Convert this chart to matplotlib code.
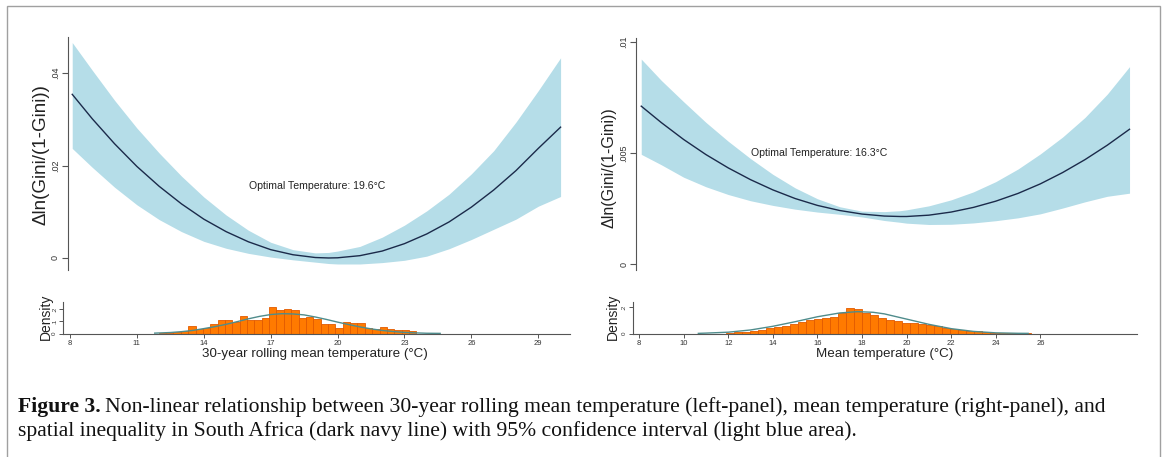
import numpy as np
import matplotlib
matplotlib.use("Agg")
import matplotlib.pyplot as plt
from matplotlib.patches import Rectangle

plt.rcParams["font.family"] = ["Liberation Sans", "DejaVu Sans"]

# ----------------- data ------------------------------------------------------
# left panel: 30-year rolling mean temperature
left_temp = [8.1, 9, 10, 11, 12, 13, 14, 15, 16, 17, 18, 19, 19.6, 20,
             21, 22, 23, 24, 25, 26, 27, 28, 29, 30]
left_fit = [0.0354, 0.0301, 0.0247, 0.0198, 0.0155, 0.0117, 0.0084, 0.0057,
            0.0035, 0.0018, 0.0007, 0.0001, 0.0, 0.00004, 0.0005, 0.0015,
            0.0031, 0.0052, 0.0078, 0.0110, 0.0147, 0.0189, 0.0237, 0.0283]
left_hi = [0.0466, 0.0406, 0.0341, 0.0281, 0.0227, 0.0177, 0.0132, 0.0093,
           0.0060, 0.0034, 0.0018, 0.0011, 0.0012, 0.0015, 0.0025, 0.0045,
           0.0071, 0.0102, 0.0138, 0.0182, 0.0232, 0.0294, 0.0362, 0.0433]
left_lo = [0.0237, 0.0196, 0.0153, 0.0115, 0.0083, 0.0057, 0.0036, 0.0021,
           0.0010, 0.0002, -0.0004, -0.0009, -0.0012, -0.0013, -0.0013,
           -0.0010, -0.0005, 0.0004, 0.0020, 0.0040, 0.0062, 0.0084, 0.0112,
           0.0133]

left_bin_edges = [11.98, 12.31, 12.64, 12.97, 13.30, 13.63, 13.96, 14.29,
                  14.62, 14.95, 15.28, 15.61, 15.94, 16.27, 16.60, 16.93,
                  17.26, 17.59, 17.92, 18.25, 18.58, 18.91, 19.24, 19.57,
                  19.90, 20.23, 20.56, 20.89, 21.22, 21.55, 21.88, 22.21,
                  22.54, 22.87, 23.20, 23.53]
left_density = [0.003, 0.006, 0.012, 0.02, 0.058, 0.04, 0.047, 0.077, 0.11,
                0.11, 0.096, 0.142, 0.11, 0.11, 0.123, 0.214, 0.19, 0.197,
                0.195, 0.13, 0.134, 0.115, 0.077, 0.074, 0.047, 0.09, 0.085,
                0.085, 0.049, 0.038, 0.055, 0.033, 0.03, 0.03, 0.022]
left_norm_x = [11.8, 12.5, 13, 13.5, 14, 14.5, 15, 15.5, 16, 16.5, 17, 17.5,
               18, 18.5, 19, 19.5, 20, 20.5, 21, 21.5, 22, 22.5, 23, 23.5,
               24, 24.6]
left_norm_y = [0.003, 0.008, 0.015, 0.025, 0.04, 0.056, 0.075, 0.097, 0.12,
               0.14, 0.155, 0.162, 0.16, 0.152, 0.135, 0.115, 0.093, 0.073,
               0.054, 0.038, 0.025, 0.016, 0.009, 0.005, 0.002, 0.001]

# right panel: mean temperature
right_temp = [8.1, 9, 10, 11, 12, 13, 14, 15, 16, 17, 18, 19, 19.7, 20,
              21, 22, 23, 24, 25, 26, 27, 28, 29, 30]
right_fit = [0.00711, 0.00637, 0.00561, 0.00493, 0.00433, 0.00380, 0.00334,
             0.00295, 0.00264, 0.00241, 0.00225, 0.00216, 0.00214, 0.00214,
             0.00220, 0.00234, 0.00255, 0.00283, 0.00318, 0.00361, 0.00412,
             0.00470, 0.00535, 0.00607]
right_hi = [0.00923, 0.00827, 0.00731, 0.00638, 0.00553, 0.00475, 0.00404,
            0.00343, 0.00294, 0.00258, 0.00238, 0.00236, 0.00240, 0.00244,
            0.00262, 0.00289, 0.00325, 0.00371, 0.00428, 0.00496, 0.00572,
            0.00660, 0.00765, 0.00889]
right_lo = [0.00494, 0.00447, 0.00391, 0.00348, 0.00313, 0.00285, 0.00264,
            0.00247, 0.00234, 0.00224, 0.00212, 0.00196, 0.00188, 0.00184,
            0.00178, 0.00179, 0.00185, 0.00195, 0.00208, 0.00226, 0.00252,
            0.00280, 0.00305, 0.00319]

right_bin_edges = [11.88, 12.24, 12.60, 12.96, 13.32, 13.68, 14.04, 14.40,
                   14.76, 15.12, 15.48, 15.84, 16.20, 16.56, 16.92, 17.28,
                   17.64, 18.00, 18.36, 18.72, 19.08, 19.44, 19.80, 20.16,
                   20.52, 20.88, 21.24, 21.60, 21.96, 22.32, 22.68, 23.04,
                   23.40, 23.76, 24.12, 24.48, 24.84, 25.20, 25.56]
right_density = [0.004, 0.008, 0.013, 0.022, 0.03, 0.04, 0.05, 0.06, 0.074,
                 0.09, 0.1, 0.112, 0.12, 0.128, 0.16, 0.198, 0.185, 0.16,
                 0.14, 0.122, 0.1, 0.092, 0.08, 0.082, 0.075, 0.066, 0.06,
                 0.045, 0.036, 0.03, 0.022, 0.016, 0.01, 0.005, 0.003, 0.002,
                 0.001, 0.001]
right_norm_x = [10.66, 11, 12, 13, 14, 15, 16, 17, 17.8, 18.5, 19, 20, 21,
                22, 23, 24, 25, 25.45]
right_norm_y = [0.001, 0.003, 0.01, 0.027, 0.055, 0.09, 0.128, 0.157, 0.167,
                0.162, 0.15, 0.11, 0.07, 0.037, 0.016, 0.005, 0.0015, 0.001]

left_xticks = [8, 11, 14, 17, 20, 23, 26, 29]
right_xticks = [8, 10, 12, 14, 16, 18, 20, 22, 24, 26]

# ----------------- styling ---------------------------------------------------
W, H = 1168, 457
BAND = "#b5dde8"
NAVY = "#1b2a4a"
BAR = "#ff7a00"
BAR_EDGE = "#e25a00"
NORM = "#4f8c8c"
AXC = "#555555"

fig = plt.figure(figsize=(W / 100, H / 100), dpi=100)


def px_axes(x0, y0, x1, y1):
    """Axes placed by pixel box (top-left origin)."""
    return fig.add_axes([x0 / W, 1 - y1 / H, (x1 - x0) / W, (y1 - y0) / H])


def style_upper(ax, ticks, labels):
    for s in ("top", "right", "bottom"):
        ax.spines[s].set_visible(False)
    ax.spines["left"].set_color(AXC)
    ax.spines["left"].set_linewidth(0.8)
    ax.set_xticks([])
    ax.set_yticks(ticks, labels)
    ax.tick_params(axis="y", length=4.5, width=0.8, color=AXC, labelsize=6.5,
                   labelcolor="#333333", pad=1)
    for t in ax.get_yticklabels():
        t.set_rotation(90)
        t.set_va("center")


def style_hist(ax, xticks, yticks, ylabels):
    for s in ("top", "right"):
        ax.spines[s].set_visible(False)
    for s in ("left", "bottom"):
        ax.spines[s].set_color(AXC)
        ax.spines[s].set_linewidth(0.8)
    ax.set_xticks(xticks)
    ax.set_yticks(yticks, ylabels)
    ax.tick_params(axis="x", length=3, width=0.7, color=AXC, labelsize=5.5,
                   labelcolor="#333333", pad=2)
    ax.tick_params(axis="y", length=3, width=0.7, color=AXC, labelsize=4.5,
                   labelcolor="#333333", pad=1.5)
    for t in ax.get_yticklabels():
        t.set_rotation(90)
        t.set_va("center")


def draw_hist(ax, edges, dens, nx, ny):
    edges = np.asarray(edges)
    ax.bar(edges[:-1], dens, width=np.diff(edges), align="edge", color=BAR,
           edgecolor=BAR_EDGE, linewidth=0.6, zorder=2)
    ax.plot(nx, ny, color=NORM, lw=1.0, zorder=3)


# ----------------- left panel ------------------------------------------------
ax1 = px_axes(67.7, 37, 569.5, 270)
ax1.fill_between(left_temp, left_lo, left_hi, color=BAND, lw=0)
ax1.plot(left_temp, left_fit, color=NAVY, lw=1.0)
ax1.set_xlim(7.897, 30.4)
ax1.set_ylim(-0.0026, 0.0478)
style_upper(ax1, [0, 0.02, 0.04], ["0", ".02", ".04"])
ax1.text(19.1, 0.0156, "Optimal Temperature: 19.6°C", fontsize=7.6,
         ha="center", va="center", color="#222222")
fig.text(41 / W, 1 - 155 / H, "Δln(Gini/(1-Gini))", rotation=90,
         fontsize=13.5, ha="center", va="center", color="#222222")

ax2 = px_axes(63.3, 301.7, 569.5, 333.5)
draw_hist(ax2, left_bin_edges, left_density, left_norm_x, left_norm_y)
ax2.set_xlim(7.70, 30.4)
ax2.set_ylim(0, 0.26)
style_hist(ax2, left_xticks, [0, 0.1, 0.2], ["0", ".1", ".2"])
fig.text(46 / W, 1 - 316.5 / H, "Density", rotation=90, fontsize=10,
         ha="center", va="center", color="#222222")
fig.text(315 / W, 1 - 354 / H, "30-year rolling mean temperature (°C)",
         fontsize=9.6, ha="center", va="center", color="#222222")

# ----------------- right panel -----------------------------------------------
ax3 = px_axes(636, 38, 1136, 270)
ax3.fill_between(right_temp, right_lo, right_hi, color=BAND, lw=0)
ax3.plot(right_temp, right_fit, color=NAVY, lw=1.0)
ax3.set_xlim(7.865, 30.29)
ax3.set_ylim(-0.00027, 0.01018)
style_upper(ax3, [0, 0.005, 0.01], ["0", ".005", ".01"])
ax3.text(16.1, 0.0050, "Optimal Temperature: 16.3°C", fontsize=7.6,
         ha="center", va="center", color="#222222")
fig.text(609 / W, 1 - 168 / H, "Δln(Gini/(1-Gini))", rotation=90,
         fontsize=11.5, ha="center", va="center", color="#222222")

ax4 = px_axes(633, 301.7, 1137, 333.5)
draw_hist(ax4, right_bin_edges, right_density, right_norm_x, right_norm_y)
ax4.set_xlim(7.73, 30.33)
ax4.set_ylim(0, 0.243)
style_hist(ax4, right_xticks, [0, 0.2], ["0", ".2"])
fig.text(613 / W, 1 - 316.5 / H, "Density", rotation=90, fontsize=10,
         ha="center", va="center", color="#222222")
fig.text(885 / W, 1 - 354 / H, "Mean temperature (°C)", fontsize=9.6,
         ha="center", va="center", color="#222222")

# ----------------- frame and caption -----------------------------------------
fig.add_artist(Rectangle((7 / W, -0.05), (1160 - 7) / W, 1.05 - 6 / H,
                         transform=fig.transFigure, fill=False,
                         edgecolor="#a0a0a0", lw=1.0))

cap_font = ["Liberation Serif", "DejaVu Serif"]
CAP_SIZE = 15.6
t1 = fig.text(18 / W, 1 - 407 / H, "Figure 3.", fontsize=CAP_SIZE,
              fontweight="bold", family=cap_font, va="center", color="#111111")
fig.canvas.draw()
bb = t1.get_window_extent()
fig.text((bb.x1 + 4) / W, 1 - 407 / H,
         "Non-linear relationship between 30-year rolling mean temperature "
         "(left-panel), mean temperature (right-panel), and",
         fontsize=CAP_SIZE, family=cap_font, va="center", color="#111111")
fig.text(18 / W, 1 - 431 / H,
         "spatial inequality in South Africa (dark navy line) with 95% "
         "confidence interval (light blue area).",
         fontsize=CAP_SIZE, family=cap_font, va="center", color="#111111")

fig.savefig("out.png", dpi=100)
